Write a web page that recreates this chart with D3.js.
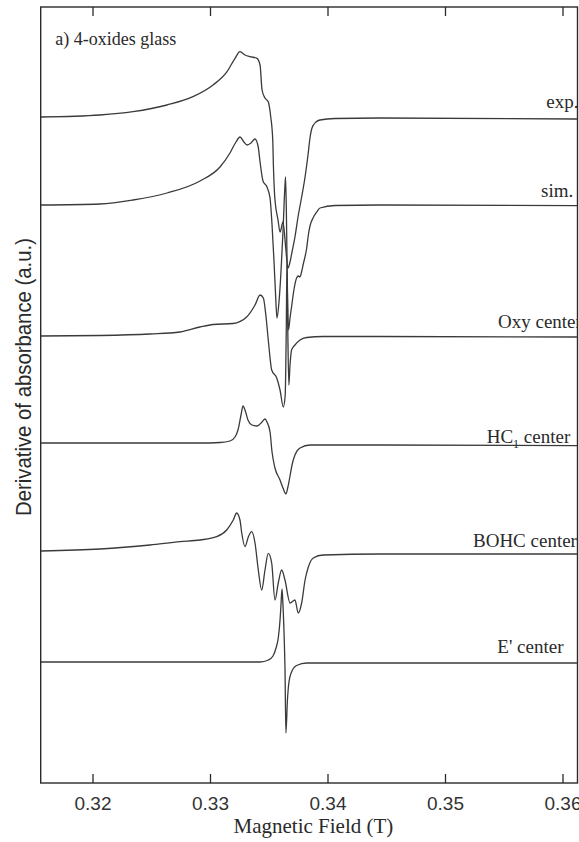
<!DOCTYPE html>
<html>
<head>
<meta charset="utf-8">
<script src="https://cdn.jsdelivr.net/npm/d3@7"></script>
<style>
  body { margin: 0; background: #fff; }
  .trace { fill: none; stroke: #3a3a3a; stroke-width: 1.3; stroke-linejoin: round; }
  .frame { fill: none; stroke: #2a2a2a; stroke-width: 1.4; }
  .lab { font-family: "Liberation Serif", serif; font-size: 19px; fill: #2a2a2a; }
  .tick text { font-family: "Liberation Sans", sans-serif; font-size: 19px; fill: #333; }
</style>
</head>
<body>
<div id="chart"></div>
<script>
// tick labels of the field axis (T)
var fieldTicks = [0.32, 0.33, 0.34, 0.35, 0.36];

// trace names, drawn top to bottom
var traceNames = ["exp.", "sim.", "Oxy center", "HC1 center", "BOHC center", "E' center"];
// vertical offset of each trace baseline (a.u.)
var traceOffsets = [66.6, 57.8, 44.7, 34.0, 23.2, 12.1];

// experimental spectrum
var expField = [0.31562, 0.32064, 0.32345, 0.32634, 0.32855, 0.33026, 0.33145, 0.33213, 0.33255, 0.33298,
  0.33340, 0.33400, 0.33426, 0.33443, 0.33468, 0.33496, 0.33517, 0.33534, 0.33540, 0.33553,
  0.33579, 0.33596, 0.33621, 0.33646, 0.33663, 0.33681, 0.33698, 0.33723, 0.33749, 0.33780,
  0.33809, 0.33834, 0.33851, 0.33868, 0.33902, 0.33936, 0.34064, 0.34447, 0.36123];
var expSignal = [0, 0.2, 0.53, 1.2, 2.03, 3.2, 4.53, 5.87, 6.53, 6.2,
  6.03, 5.87, 5.2, 2.7, 1.9, 1.5, 0, -2.3, -5.0, -8.3,
  -10.3, -11.5, -10.5, -13.3, -15.1, -14.5, -13.5, -12.0, -10.0, -8.0,
  -6.0, -3.8, -2.1, -1.1, -0.5, -0.3, -0.15, -0.1, -0.2];

// simulated spectrum
var simField = [0.31562, 0.32064, 0.32345, 0.32634, 0.32915, 0.33085, 0.33170, 0.33221, 0.33255, 0.33289,
  0.33315, 0.33349, 0.33383, 0.33409, 0.33426, 0.33451, 0.33485, 0.33511, 0.33528, 0.33545,
  0.33557, 0.33570, 0.33587, 0.33604, 0.33621, 0.33636, 0.33643, 0.33651, 0.33659, 0.33668,
  0.33681, 0.33694, 0.33714, 0.33737, 0.33753, 0.33766, 0.33779, 0.33794, 0.33823, 0.33837,
  0.33851, 0.33877, 0.33908, 0.33936, 0.34064, 0.34447, 0.36123];
var simSignal = [0, 0.1, 0.5, 1.2, 2.4, 3.8, 5.2, 6.3, 6.8, 6.3,
  6.0, 6.2, 6.6, 5.9, 4.3, 2.4, 1.8, 0.7, -2.0, -5.7,
  -8.7, -11.3, -9.7, -6.7, -2.7, 1.5, 2.8, -1.5, -8.5, -12.5,
  -11.3, -10.2, -8.5, -7.3, -7.1, -7.2, -6.7, -5.9, -4.3, -3.0,
  -2.1, -1.3, -0.7, -0.3, -0.05, 0, -0.07];

// oxy center component
var oxyField = [0.31562, 0.32064, 0.32489, 0.32745, 0.32915, 0.33026, 0.33196, 0.33312, 0.33383, 0.33426,
  0.33454, 0.33477, 0.33496, 0.33525, 0.33568, 0.33596, 0.33624, 0.33640, 0.33649, 0.33655,
  0.33662, 0.33671, 0.33681, 0.33694, 0.33723, 0.33766, 0.33823, 0.33962, 0.34447, 0.36123];
var oxySignal = [0, 0.05, 0.2, 0.4, 0.9, 1.15, 1.25, 1.9, 3.1, 4.1,
  3.8, 1.9, -0.4, -3.4, -4.2, -5.4, -7.1, -5.9, 0.6, 7.1,
  0.6, -4.9, -2.9, -1.4, -0.9, -0.4, -0.15, -0.05, -0.05, -0.1];

// HC1 center component
var hcField = [0.31562, 0.32489, 0.32915, 0.33085, 0.33170, 0.33213, 0.33238, 0.33264, 0.33281, 0.33298,
  0.33323, 0.33357, 0.33400, 0.33443, 0.33468, 0.33485, 0.33511, 0.33528, 0.33553, 0.33596,
  0.33621, 0.33646, 0.33663, 0.33681, 0.33698, 0.33723, 0.33766, 0.33851, 0.34447, 0.36123];
var hcSignal = [0, 0, 0, 0.05, 0.2, 0.6, 1.3, 2.8, 3.7, 3.3,
  2.3, 1.8, 1.7, 2.1, 2.4, 2.1, 1.1, -0.9, -2.5, -3.7,
  -4.5, -5.1, -4.4, -3.3, -2.2, -1.2, -0.5, -0.2, -0.2, -0.27];

// BOHC center component
var bohcField = [0.31562, 0.32064, 0.32489, 0.32745, 0.32915, 0.33057, 0.33142, 0.33198, 0.33227, 0.33255,
  0.33270, 0.33298, 0.33326, 0.33355, 0.33383, 0.33411, 0.33440, 0.33468, 0.33496, 0.33525,
  0.33553, 0.33581, 0.33610, 0.33638, 0.33681, 0.33723, 0.33751, 0.33780, 0.33809, 0.33837,
  0.33879, 0.33964, 0.34447, 0.36123];
var bohcSignal = [0, 0.2, 0.6, 0.93, 1.1, 1.43, 2.1, 3.1, 3.8, 3.1,
  1.8, 0.43, 1.4, 1.93, 0.8, -1.9, -3.9, -1.9, -0.23, -1.2,
  -4.9, -3.2, -1.9, -2.9, -5.2, -4.9, -6.2, -5.2, -2.9, -1.6,
  -0.7, -0.4, -0.3, -0.3];

// E' center component
var eField = [0.31562, 0.32915, 0.33426, 0.33496, 0.33536, 0.33562, 0.33581, 0.33596, 0.33604, 0.33613,
  0.33621, 0.33632, 0.33638, 0.33646, 0.33659, 0.33672, 0.33694, 0.33737, 0.33823, 0.34447, 0.36123];
var eSignal = [0, 0, 0, 0.2, 0.6, 1.4, 2.4, 4.2, 5.7, 7.3,
  5.7, 2.2, -0.5, -7.1, -3.8, -2.0, -1.0, -0.35, -0.1, -0.1, -0.1];

var traceFields = [expField, simField, oxyField, hcField, bohcField, eField];
var traceSignals = [expSignal, simSignal, oxySignal, hcSignal, bohcSignal, eSignal];

// Set the dimensions of the canvas / graph
var W = 579, H = 842;
var margin = {top: 7, right: 1.5, bottom: 59, left: 40.7},
  width = W - margin.left - margin.right,
  height = H - margin.top - margin.bottom;

// Set the ranges
var x = d3.scaleLinear().domain([0.315591, 0.361277]).range([0, width]);
var y = d3.scaleLinear().domain([0, 77.6]).range([height, 0]);

var svg = d3.select("#chart")
  .append("svg")
    .attr("width", W)
    .attr("height", H)
  .append("g")
    .attr("transform", "translate(" + margin.left + "," + margin.top + ")");

svg.append("defs").append("clipPath").attr("id", "plotclip")
  .append("rect").attr("width", width).attr("height", height);

// traces
var line = d3.line()
  .x(function(d) { return x(d.f); })
  .y(function(d) { return y(d.off + d.v); })
  .curve(d3.curveMonotoneX);

traceFields.forEach(function(fields, i) {
  var pts = fields.map(function(f, j) {
    return {f: f, v: traceSignals[i][j], off: traceOffsets[i]};
  });
  svg.append("path")
    .datum(pts)
    .attr("class", "trace")
    .attr("clip-path", "url(#plotclip)")
    .attr("d", line);
});

// trace labels (left edge in px, shift above baseline in px)
var labelPos = [[505.5, -9], [500.3, -8], [457.3, -8], [446, -0.5], [432.3, -4.5], [456.6, -9.5]];
var labels = svg.append("g").attr("clip-path", "url(#plotclip)");
traceNames.forEach(function(name, i) {
  var t = labels.append("text")
    .attr("class", "lab")
    .attr("x", labelPos[i][0])
    .attr("y", y(traceOffsets[i]) + labelPos[i][1]);
  if (name === "HC1 center") {
    t.append("tspan").text("HC");
    t.append("tspan").attr("dy", 5).style("font-size", "12px").text("1");
    t.append("tspan").attr("dy", -5).text(" center");
  } else {
    t.text(name);
  }
});

// panel title
svg.append("text")
  .attr("class", "lab")
  .attr("x", 14.5)
  .attr("y", 38)
  .style("font-size", "18px")
  .text("a) 4-oxides glass");

// Add the X Axis (inward ticks, bottom and top)
svg.append("g")
  .attr("class", "x axis")
  .attr("transform", "translate(0," + height + ")")
  .call(d3.axisBottom(x).tickValues(fieldTicks).tickSize(-9).tickPadding(14)
    .tickFormat(d3.format(".2f")))
  .call(function(g) { g.select(".domain").remove(); })
  .call(function(g) { g.selectAll("line").attr("stroke", "#2a2a2a").attr("stroke-width", 1.3); });

svg.append("g")
  .attr("class", "x axis top")
  .call(d3.axisTop(x).tickValues(fieldTicks).tickSize(-9).tickFormat(""))
  .call(function(g) { g.select(".domain").remove(); })
  .call(function(g) { g.selectAll("line").attr("stroke", "#2a2a2a").attr("stroke-width", 1.3); });

// frame
svg.append("rect")
  .attr("class", "frame")
  .attr("width", width)
  .attr("height", height);

// axis titles
svg.append("text")
  .attr("class", "lab")
  .attr("text-anchor", "middle")
  .attr("x", x(0.3388))
  .attr("y", height + 50)
  .style("font-size", "21px")
  .text("Magnetic Field (T)");

svg.append("text")
  .attr("text-anchor", "middle")
  .attr("transform", "translate(" + (-10) + "," + 370 + ") rotate(-90)")
  .attr("textLength", 278)
  .attr("lengthAdjust", "spacingAndGlyphs")
  .style("font-family", "'Liberation Sans', sans-serif")
  .style("font-size", "22px")
  .style("fill", "#2a2a2a")
  .text("Derivative of absorbance (a.u.)");
</script>
</body>
</html>
